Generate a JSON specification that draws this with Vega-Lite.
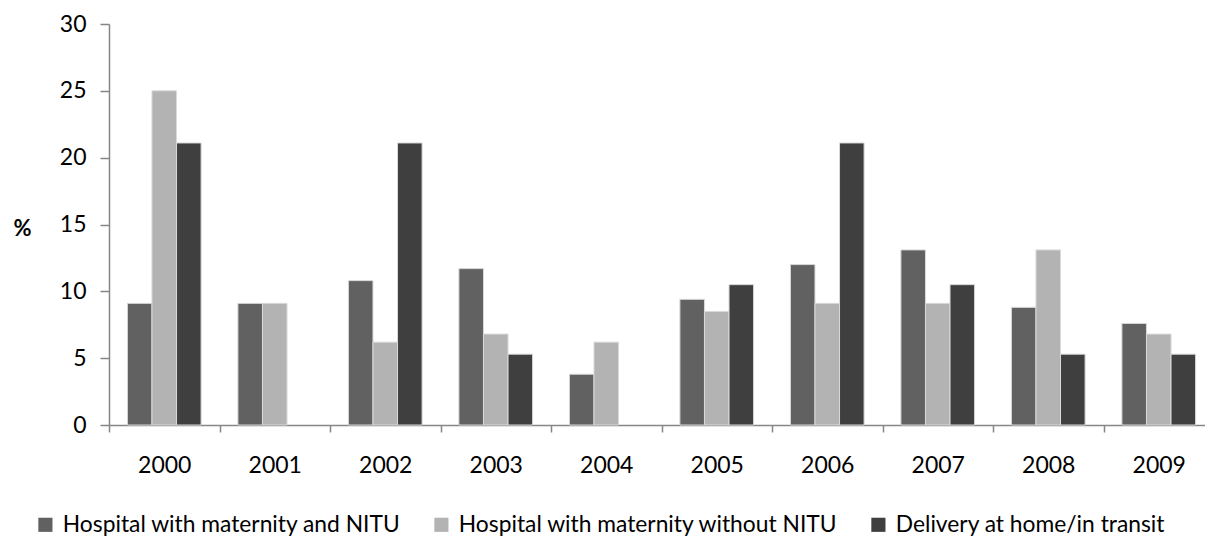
{
  "$schema": "https://vega.github.io/schema/vega-lite/v6.json",
  "autosize": {"type": "none"},
  "width": 1096,
  "height": 401,
  "padding": {"left": 109, "top": 24, "right": 0, "bottom": 111},
  "background": "white",
  "config": {
    "view": {"stroke": null},
    "font": "Lato",
    "axis": {"labelFont": "Lato", "titleFont": "Lato"},
    "legend": {"labelFont": "Lato"}
  },
  "data": {
    "values": [
      {"year": "2000", "place": "Hospital with maternity and NITU", "pct": 9.1},
      {"year": "2000", "place": "Hospital with maternity without NITU", "pct": 25.0},
      {"year": "2000", "place": "Delivery at home/in transit", "pct": 21.1},
      {"year": "2001", "place": "Hospital with maternity and NITU", "pct": 9.1},
      {"year": "2001", "place": "Hospital with maternity without NITU", "pct": 9.1},
      {"year": "2001", "place": "Delivery at home/in transit", "pct": 0},
      {"year": "2002", "place": "Hospital with maternity and NITU", "pct": 10.8},
      {"year": "2002", "place": "Hospital with maternity without NITU", "pct": 6.2},
      {"year": "2002", "place": "Delivery at home/in transit", "pct": 21.1},
      {"year": "2003", "place": "Hospital with maternity and NITU", "pct": 11.7},
      {"year": "2003", "place": "Hospital with maternity without NITU", "pct": 6.8},
      {"year": "2003", "place": "Delivery at home/in transit", "pct": 5.3},
      {"year": "2004", "place": "Hospital with maternity and NITU", "pct": 3.8},
      {"year": "2004", "place": "Hospital with maternity without NITU", "pct": 6.2},
      {"year": "2004", "place": "Delivery at home/in transit", "pct": 0},
      {"year": "2005", "place": "Hospital with maternity and NITU", "pct": 9.4},
      {"year": "2005", "place": "Hospital with maternity without NITU", "pct": 8.5},
      {"year": "2005", "place": "Delivery at home/in transit", "pct": 10.5},
      {"year": "2006", "place": "Hospital with maternity and NITU", "pct": 12.0},
      {"year": "2006", "place": "Hospital with maternity without NITU", "pct": 9.1},
      {"year": "2006", "place": "Delivery at home/in transit", "pct": 21.1},
      {"year": "2007", "place": "Hospital with maternity and NITU", "pct": 13.1},
      {"year": "2007", "place": "Hospital with maternity without NITU", "pct": 9.1},
      {"year": "2007", "place": "Delivery at home/in transit", "pct": 10.5},
      {"year": "2008", "place": "Hospital with maternity and NITU", "pct": 8.8},
      {"year": "2008", "place": "Hospital with maternity without NITU", "pct": 13.1},
      {"year": "2008", "place": "Delivery at home/in transit", "pct": 5.3},
      {"year": "2009", "place": "Hospital with maternity and NITU", "pct": 7.6},
      {"year": "2009", "place": "Hospital with maternity without NITU", "pct": 6.8},
      {"year": "2009", "place": "Delivery at home/in transit", "pct": 5.3}
    ]
  },
  "mark": {"type": "bar", "stroke": "#d9d9d9", "strokeWidth": 1},
  "encoding": {
    "x": {
      "field": "year",
      "type": "nominal",
      "scale": {"range": [0, 1105], "paddingInner": 0, "paddingOuter": 0},
      "axis": {
        "title": null,
        "labelAngle": 0,
        "labelFontSize": 23,
        "labelColor": "#000000",
        "labelPadding": 22,
        "tickBand": "extent",
        "tickSize": 7,
        "tickColor": "#868686",
        "tickWidth": 1.5,
        "domainColor": "#868686",
        "domainWidth": 1.5
      }
    },
    "xOffset": {
      "field": "place",
      "type": "nominal",
      "sort": ["Hospital with maternity and NITU", "Hospital with maternity without NITU", "Delivery at home/in transit"],
      "scale": {"paddingInner": 0, "paddingOuter": 0.75}
    },
    "y": {
      "field": "pct",
      "type": "quantitative",
      "scale": {"domain": [0, 30]},
      "axis": {
        "title": "%",
        "titleAngle": 0,
        "titleFontSize": 22,
        "titleFontWeight": "bold",
        "titleColor": "#000000",
        "titleAlign": "center",
        "titleBaseline": "middle",
        "titleX": -87,
        "titleY": 204,
        "values": [0, 5, 10, 15, 20, 25, 30],
        "grid": false,
        "labelFontSize": 23,
        "labelColor": "#000000",
        "labelPadding": 14,
        "tickSize": 9,
        "tickColor": "#868686",
        "tickWidth": 1.5,
        "domainColor": "#868686",
        "domainWidth": 1.5
      }
    },
    "strokeOpacity": {
      "condition": {"test": "datum.pct > 0", "value": 1},
      "value": 0
    },
    "color": {
      "field": "place",
      "type": "nominal",
      "sort": ["Hospital with maternity and NITU", "Hospital with maternity without NITU", "Delivery at home/in transit"],
      "scale": {
        "domain": ["Hospital with maternity and NITU", "Hospital with maternity without NITU", "Delivery at home/in transit"],
        "range": ["#616161", "#b3b3b3", "#3f3f3f"]
      },
      "legend": {
        "title": null,
        "orient": "none",
        "direction": "horizontal",
        "legendX": -75,
        "legendY": 489,
        "padding": 0,
        "symbolType": "square",
        "symbolSize": 200,
        "symbolStrokeWidth": 0,
        "labelFontSize": 22.8,
        "labelColor": "#000000",
        "labelOffset": 6,
        "columnPadding": 29,
        "labelLimit": 0
      }
    }
  }
}
